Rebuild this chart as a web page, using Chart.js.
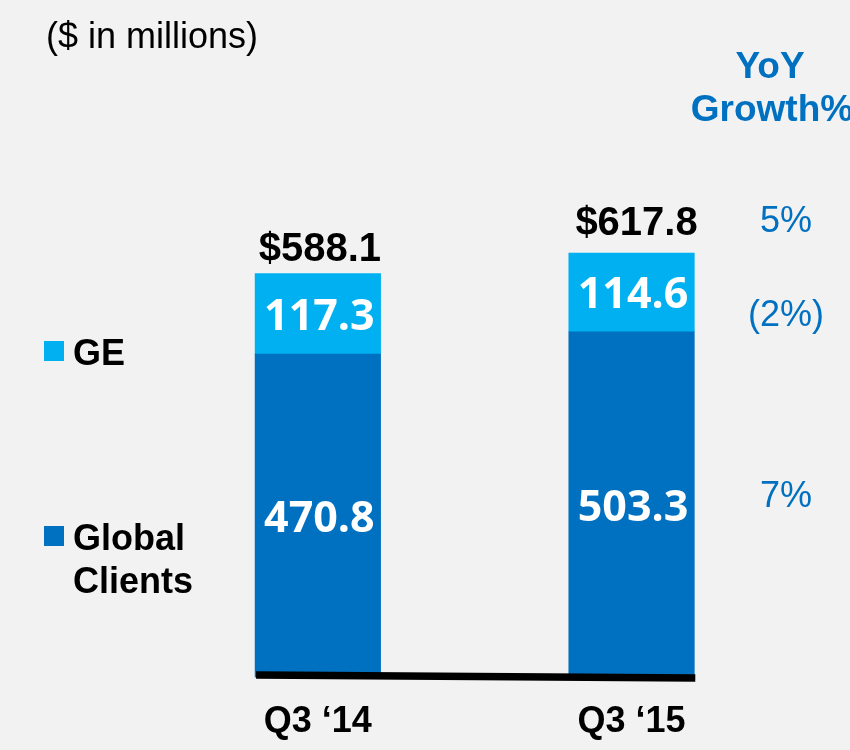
<!DOCTYPE html>
<html>
<head>
<meta charset="utf-8">
<script src="https://cdn.jsdelivr.net/npm/chart.js@4"></script>
<style>
  body { margin: 0; background: #f2f2f2; }
  canvas { display: block; background: #f2f2f2; }
</style>
</head>
<body>
<canvas id="revChart" width="850" height="750"></canvas>
<script>
// values
const categories = ['Q3 \u201814', 'Q3 \u201815'];
const globalClients = [470.8, 503.3];
const ge = [117.3, 114.6];
const totals = [588.1, 617.8];
const growthLabels = ['5%', '(2%)', '7%']; // total, GE, Global Clients

const DARK_BLUE = '#0070c0';
const LIGHT_BLUE = '#00b0f0';
const SANS = '"Liberation Sans", Arial, sans-serif';

const ctx = document.getElementById('revChart').getContext('2d');

const annotations = {
  id: 'slideText',
  afterDatasetsDraw(chart) {
    const c = chart.ctx;
    const y = chart.scales.y;
    const gcMeta = chart.getDatasetMeta(0);
    const geMeta = chart.getDatasetMeta(1);
    c.save();

    // segment values inside the bars
    c.fillStyle = '#ffffff';
    c.font = 'bold 43px "Open Sans", sans-serif';
    c.textAlign = 'center';
    c.textBaseline = 'alphabetic';
    [[gcMeta, globalClients], [geMeta, ge]].forEach(([meta, vals]) => {
      meta.data.forEach((bar, i) => {
        const mid = (bar.y + bar.base) / 2;
        c.fillText(vals[i].toFixed(1), bar.x + 1.5, mid + 16);
      });
    });

    // totals above the bars
    c.fillStyle = '#000000';
    c.font = 'bold 40px ' + SANS;
    totals.forEach((t, i) => {
      const bar = geMeta.data[i];
      c.fillText('$' + t.toFixed(1), bar.x + 2 + i * 3, y.getPixelForValue(t) - 12 - i * 6);
    });

    // baseline
    const first = gcMeta.data[0];
    const last = gcMeta.data[gcMeta.data.length - 1];
    c.strokeStyle = '#000000';
    c.lineWidth = 7.5;
    c.beginPath();
    c.moveTo(first.x - first.width / 2 + 1, y.getPixelForValue(0) - 2.5);
    c.lineTo(last.x + last.width / 2 + 1, y.getPixelForValue(0) + 0.5);
    c.stroke();

    // category labels
    c.font = 'bold 36px ' + SANS;
    categories.forEach((cat, i) => {
      c.fillText(cat, gcMeta.data[i].x, 732);
    });

    // unit note
    c.textAlign = 'left';
    c.font = '36px ' + SANS;
    c.fillText('($ in millions)', 46, 48);

    // legend
    c.font = 'bold 36px ' + SANS;
    c.fillStyle = LIGHT_BLUE;
    c.fillRect(44, 341, 20, 20);
    c.fillStyle = DARK_BLUE;
    c.fillRect(44, 526, 20, 20);
    c.fillStyle = '#000000';
    c.fillText('GE', 73, 365);
    c.fillText('Global', 73, 550);
    c.fillText('Clients', 73, 593);

    // growth column
    c.textAlign = 'center';
    c.fillStyle = DARK_BLUE;
    c.font = 'bold 37px ' + SANS;
    c.fillText('YoY', 770, 78);
    c.fillText('Growth%', 772, 121);
    c.font = '36px ' + SANS;
    c.fillText(growthLabels[0], 786, 232);
    c.fillText(growthLabels[1], 786, 326);
    c.fillText(growthLabels[2], 786, 507);

    c.restore();
  }
};

new Chart(ctx, {
  type: 'bar',
  data: {
    labels: categories,
    datasets: [
      {
        label: 'Global Clients',
        data: globalClients,
        backgroundColor: DARK_BLUE,
        borderWidth: 0,
        barThickness: 125.5
      },
      {
        label: 'GE',
        data: ge,
        backgroundColor: LIGHT_BLUE,
        borderWidth: 0,
        barThickness: 125.5
      }
    ]
  },
  options: {
    responsive: false,
    maintainAspectRatio: false,
    animation: false,
    devicePixelRatio: 1,
    layout: {
      padding: { top: 59.2, bottom: 72.5, left: 161, right: 61.6 }
    },
    scales: {
      x: { stacked: true, display: false },
      y: { stacked: true, display: false, min: 0, max: 900 }
    },
    plugins: {
      legend: { display: false },
      tooltip: { enabled: false }
    }
  },
  plugins: [annotations]
});
</script>
</body>
</html>
